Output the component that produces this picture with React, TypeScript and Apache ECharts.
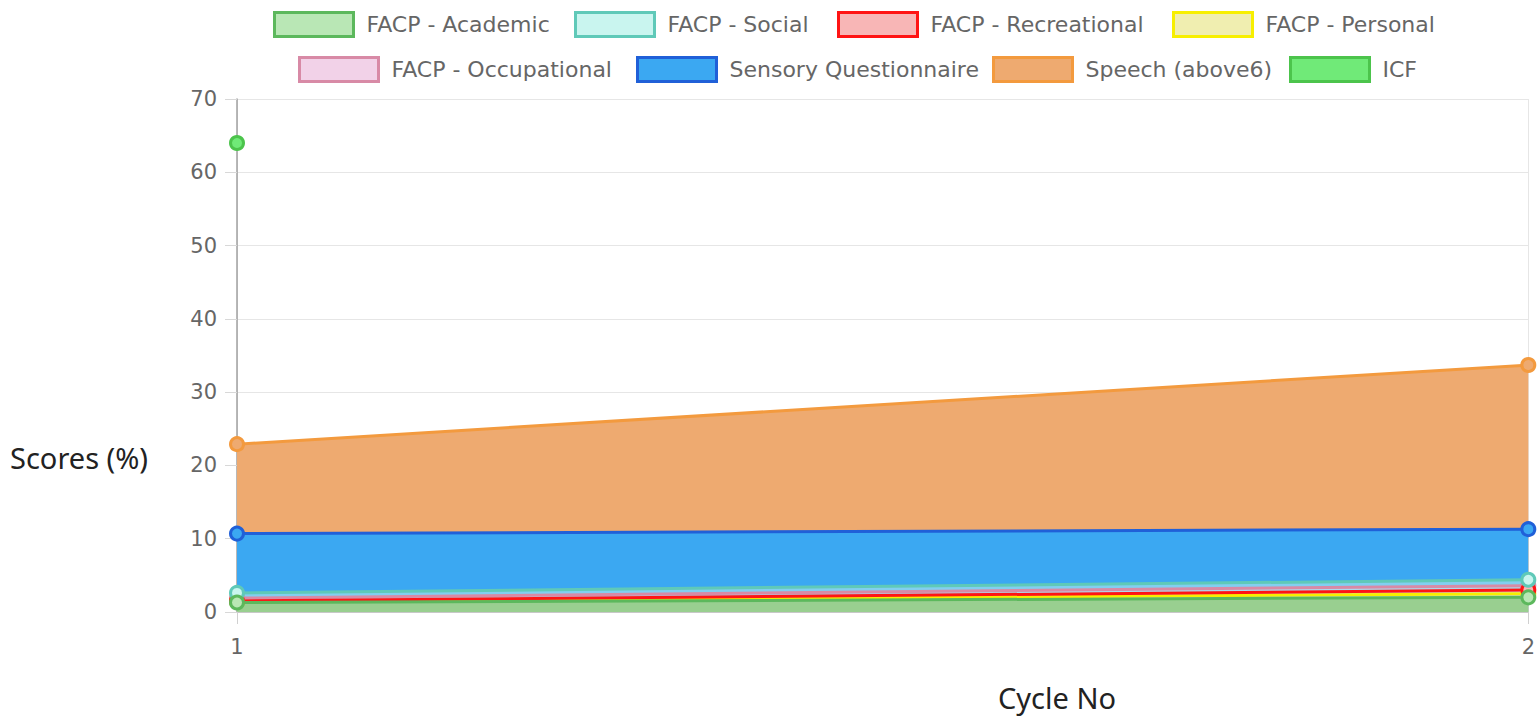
import React, { useEffect, useRef } from "react";
import * as echarts from "echarts";

const categories = ["1", "2"];
const yTicks = [0, 10, 20, 30, 40, 50, 60, 70];

const academic = [1.3, 2.0];
const social = [2.6, 4.4];
const recreational = [1.5, 3.0];
const personal = [1.4, 2.5];
const occupational = [1.9, 3.6];
const sensory = [10.7, 11.3];
const speech = [22.9, 33.7];
const icf = [64, null];

const names = [
  "FACP - Academic",
  "FACP - Social",
  "FACP - Recreational",
  "FACP - Personal",
  "FACP - Occupational",
  "Sensory Questionnaire",
  "Speech (above6)",
  "ICF",
];

const seriesData = [academic, social, recreational, personal, occupational, sensory, speech, icf];

const lineColors = ["#5cb85c", "#5fc9b8", "#ff1414", "#f7ef00", "#d88aa6", "#2060d8", "#f39a3e", "#4cc44c"];
const legendFills = ["#b9e7b5", "#c9f5ef", "#f8b6b6", "#f0eeb0", "#f2d2e8", "#3ba8f2", "#eeaa70", "#70ea78"];
const areaFills = [
  "rgba(150,205,140,0.95)",
  "rgba(200,245,238,0.5)",
  "rgba(248,180,180,0.5)",
  "rgba(240,238,176,0.5)",
  "rgba(242,210,232,0.5)",
  "#3ba8f2",
  "#eeaa70",
  "#70ea78",
];

// legend item placement (left edge of box, top of row)
const legendLefts = [273, 574, 837, 1172, 298, 636, 992, 1289];
const legendTops = [11, 11, 11, 11, 56, 56, 56, 56];

const FONT = "DejaVu Sans";

export default function App() {
  const ref = useRef<HTMLDivElement>(null);
  useEffect(() => {
    if (!ref.current) return;
    const chart = echarts.init(ref.current, null, { renderer: "svg" });

    const legendItem = (i: number) => ({
      name: names[i],
      icon: "rect",
      itemStyle: { color: legendFills[i], borderColor: lineColors[i], borderWidth: 3 },
    });

    const legendCommon = {
      orient: "horizontal",
      padding: 0,
      itemWidth: 79,
      itemHeight: 24,
      itemGap: 17,
      selectedMode: false,
      textStyle: { fontFamily: FONT, fontSize: 22, color: "#666", padding: [0, 0, 0, 8] },
    };

    const legends = names.map((_, i) => ({
      ...legendCommon,
      left: legendLefts[i],
      top: legendTops[i],
      data: [legendItem(i)],
    }));

    const series: any[] = [];
    // all fills first (below every line), last dataset drawn first
    for (let i = names.length - 1; i >= 0; i--) {
      series.push({
        name: names[i],
        type: "line",
        data: seriesData[i],
        showSymbol: false,
        symbol: "none",
        connectNulls: false,
        lineStyle: { width: 0, color: lineColors[i] },
        itemStyle: { color: legendFills[i] },
        areaStyle: { color: areaFills[i], opacity: 1, origin: "start" },
        emphasis: { disabled: true },
        silent: true,
      });
    }
    // lines and points on top
    for (let i = names.length - 1; i >= 0; i--) {
      series.push({
        name: names[i],
        type: "line",
        data: seriesData[i],
        symbol: "circle",
        symbolSize: 13,
        showSymbol: true,
        connectNulls: false,
        lineStyle: { color: lineColors[i], width: 3 },
        itemStyle: { color: legendFills[i], borderColor: lineColors[i], borderWidth: 3 },
        emphasis: { disabled: true },
      });
    }

    chart.setOption({
      animation: false,
      legend: legends,
      grid: { left: 237, right: 9, top: 99, bottom: 107, containLabel: false },
      xAxis: {
        type: "category",
        data: categories,
        boundaryGap: false,
        axisLine: { show: true, lineStyle: { color: "#c8c8c8", width: 1 } },
        axisTick: { show: true, length: 12, lineStyle: { color: "#d0d0d0" } },
        splitLine: { show: true, lineStyle: { color: "#e6e6e6", width: 1 } },
        axisLabel: { margin: 24, fontSize: 21, color: "#666", fontFamily: FONT },
      },
      yAxis: {
        type: "value",
        min: yTicks[0],
        max: yTicks[yTicks.length - 1],
        interval: 10,
        axisLine: { show: true, lineStyle: { color: "#a0a0a0", width: 1.5 } },
        axisTick: { show: true, length: 12, lineStyle: { color: "#d8d8d8" } },
        splitLine: { show: true, lineStyle: { color: "#e6e6e6", width: 1 } },
        axisLabel: { margin: 20, fontSize: 21, color: "#666", fontFamily: FONT },
      },
      graphic: [
        {
          type: "text",
          x: 10,
          y: 457,
          style: {
            text: "Scores (%)",
            font: "29px 'Noto Sans'",
            fill: "#222",
            verticalAlign: "middle",
            align: "left",
          },
        },
        {
          type: "text",
          x: 1057,
          y: 697,
          style: {
            text: "Cycle No",
            font: "29px 'Noto Sans'",
            fill: "#222",
            verticalAlign: "middle",
            align: "center",
          },
        },
      ],
      series,
    });
    return () => chart.dispose();
  }, []);
  return (
    <div
      ref={ref}
      style={{ position: "fixed", left: 0, top: 0, width: 1538, height: 719, background: "#fff" }}
    />
  );
}
